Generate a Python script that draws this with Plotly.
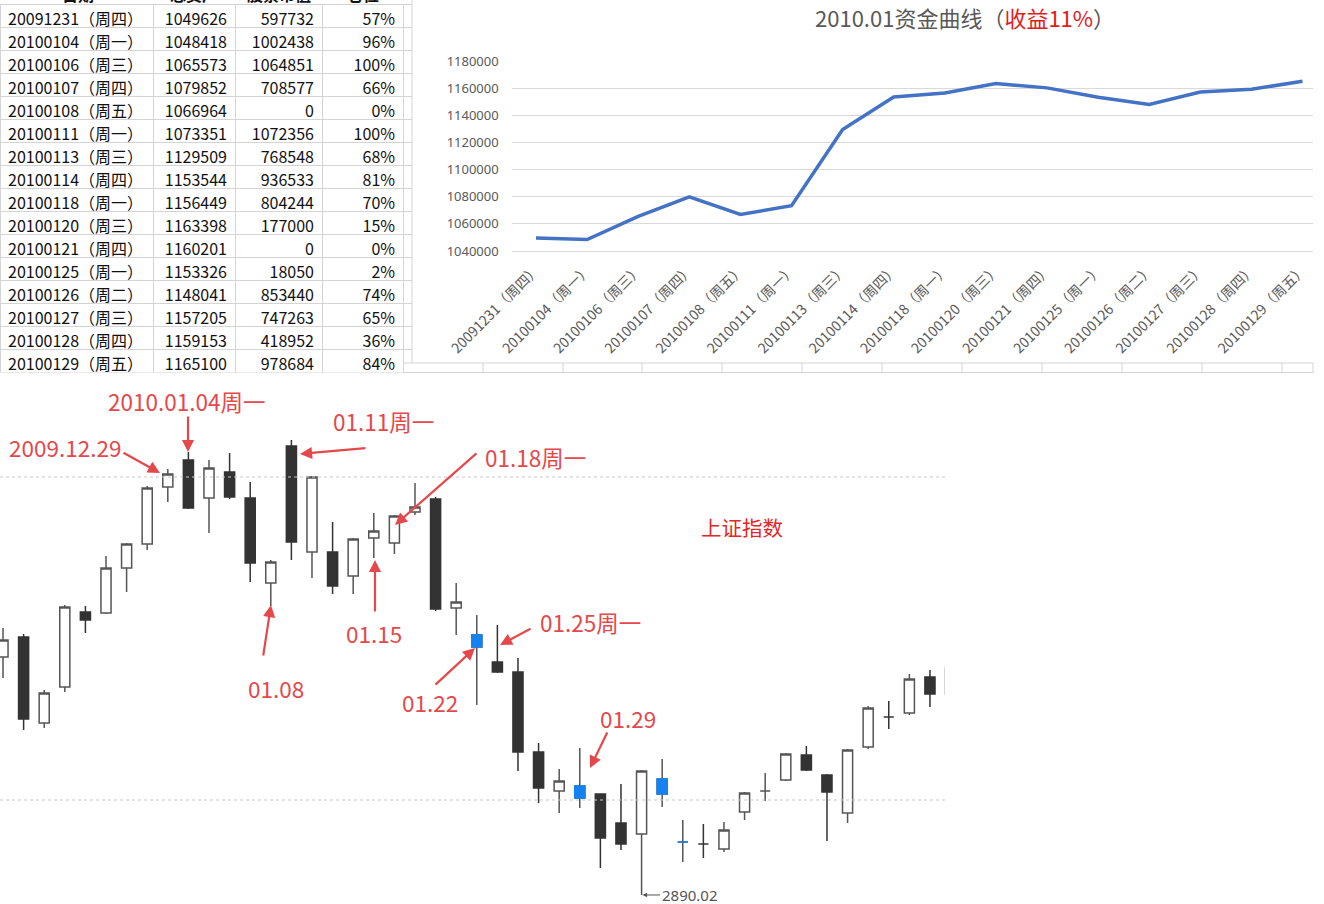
import plotly.graph_objects as go

W, H = 1324, 904

# ---------------- table / equity curve data ----------------
dates = ['20091231', '20100104', '20100106', '20100107', '20100108', '20100111',
         '20100113', '20100114', '20100118', '20100120', '20100121', '20100125',
         '20100126', '20100127', '20100128', '20100129']
weekdays = ['周四', '周一', '周三', '周四', '周五', '周一', '周三', '周四',
            '周一', '周三', '周四', '周一', '周二', '周三', '周四', '周五']
total_assets = [1049626, 1048418, 1065573, 1079852, 1066964, 1073351, 1129509, 1153544,
                1156449, 1163398, 1160201, 1153326, 1148041, 1157205, 1159153, 1165100]
stock_value = [597732, 1002438, 1064851, 708577, 0, 1072356, 768548, 936533,
               804244, 177000, 0, 18050, 853440, 747263, 418952, 978684]
position_pct = [57, 96, 100, 66, 0, 100, 68, 81, 70, 15, 0, 2, 74, 65, 36, 84]
table_header = ['日期', '总资产', '股票市值', '仓位']

labels = [f"{d}（{w}）" for d, w in zip(dates, weekdays)]

# ---------------- SSE index candles ----------------
candle_dates = ['2009-12-21', '2009-12-22', '2009-12-23', '2009-12-24', '2009-12-25',
                '2009-12-28', '2009-12-29', '2009-12-30', '2009-12-31', '2010-01-04',
                '2010-01-05', '2010-01-06', '2010-01-07', '2010-01-08', '2010-01-11',
                '2010-01-12', '2010-01-13', '2010-01-14', '2010-01-15', '2010-01-18',
                '2010-01-19', '2010-01-20', '2010-01-21', '2010-01-22', '2010-01-25',
                '2010-01-26', '2010-01-27', '2010-01-28', '2010-01-29', '2010-02-01',
                '2010-02-02', '2010-02-03', '2010-02-04', '2010-02-05', '2010-02-08',
                '2010-02-09', '2010-02-10', '2010-02-11', '2010-02-12', '2010-02-22',
                '2010-02-23', '2010-02-24', '2010-02-25', '2010-02-26', '2010-03-01',
                '2010-03-02', '2010-03-03']
opens = [3107.56, 3125.84, 3047.23, 3080.14, 3148.69, 3147.78, 3188.91, 3210.85, 3262.95, 3287.63,
         3252.90, 3276.66, 3252.90, 3175.20, 3300.43, 3203.54, 3203.54, 3181.60, 3216.33, 3211.76,
         3240.10, 3251.98, 3152.35, 3127.67, 3102.99, 3093.85, 3020.72, 2985.07, 2989.64, 2982.33,
         2955.82, 2945.77, 2982.33, 2938.45, 2936.63, 2932.06, 2965.88, 2985.07, 2995.13, 3017.98,
         2999.70, 2964.96, 3025.29, 3052.71, 3056.37, 3089.28, 3073.74]
highs = [3134.07, 3128.58, 3077.39, 3155.09, 3154.18, 3199.88, 3211.76, 3263.87, 3279.41, 3294.95,
         3287.63, 3294.03, 3267.52, 3196.23, 3305.91, 3273.01, 3230.96, 3216.33, 3239.19, 3237.36,
         3266.61, 3253.81, 3175.20, 3145.95, 3136.81, 3106.65, 3028.95, 3005.18, 3024.38, 2982.33,
         2991.47, 3004.27, 3014.32, 2958.56, 2954.91, 2956.74, 2984.16, 3001.53, 3019.81, 3026.21,
         3000.61, 3023.46, 3062.77, 3067.34, 3092.02, 3095.68, 3099.33]
lows = [3088.36, 3040.83, 3042.66, 3075.57, 3129.50, 3146.86, 3166.97, 3205.37, 3249.24, 3242.84,
        3220.91, 3251.98, 3176.12, 3154.18, 3196.23, 3179.77, 3165.15, 3165.15, 3198.05, 3201.71,
        3237.36, 3149.61, 3127.67, 3063.68, 3092.93, 3003.35, 2974.10, 2964.96, 2969.53, 2914.69,
        2931.14, 2890.02, 2970.45, 2920.17, 2923.83, 2929.31, 2958.56, 2975.93, 2994.21, 3003.35,
        2939.37, 2955.82, 3023.46, 3041.75, 3054.54, 3061.86, 3072.82]
closes = [3123.10, 3050.89, 3074.65, 3153.26, 3141.38, 3188.91, 3210.85, 3262.04, 3274.84, 3243.76,
          3280.32, 3253.81, 3193.48, 3194.40, 3212.68, 3272.09, 3172.46, 3215.42, 3222.73, 3236.44,
          3244.67, 3151.44, 3157.83, 3116.70, 3093.85, 3020.72, 2987.81, 2994.21, 2978.67, 2942.11,
          2936.63, 3003.35, 2996.04, 2938.45, 2936.63, 2949.42, 2983.24, 2985.07, 3018.89, 3004.27,
          2984.16, 3022.55, 3060.94, 3052.71, 3087.45, 3073.74, 3097.50]
highlight_dates = ['2010-01-22', '2010-01-29', '2010-02-04', '2010-02-05']
guide_levels = [3272.09, 2976.85]
low_label = 2890.02

# ---------------- helpers for layout positions (pixels -> paper) ----------------
def px(x):
    return x / W


def py(y):
    return 1 - y / H


fig = go.Figure()

# ---- table (first record drawn as the table's header row so no extra band appears) ----
pct_text = [f"{p}%" for p in position_pct]
columns = [labels, total_assets, stock_value, pct_text]
cell_font = dict(family='Noto Sans CJK SC', size=16, color='#111111')
cell_align = ['left', 'right', 'right', 'right']
cell_line = dict(color='#D4D4D4', width=1)
fig.add_trace(go.Table(
    domain=dict(x=[px(0), px(403)], y=[py(373), py(4.5)]),
    columnwidth=[153, 82, 87, 81],
    header=dict(values=[str(col[0]) for col in columns], height=23, align=cell_align,
                font=cell_font, line=cell_line, fill=dict(color='white')),
    cells=dict(values=[col[1:] for col in columns], height=23, align=cell_align,
               font=cell_font, line=cell_line, fill=dict(color='white')),
))

# ---- equity curve ----
fig.add_trace(go.Scatter(
    x=labels, y=total_assets, mode='lines',
    line=dict(color='#4472C4', width=3.5),
    xaxis='x', yaxis='y', showlegend=False, hoverinfo='x+y',
))

# ---- candles ----
normal = [i for i, d in enumerate(candle_dates) if d not in highlight_dates]
blue = [i for i, d in enumerate(candle_dates) if d in highlight_dates]


def pick(arr, idx):
    return [arr[i] for i in idx]


fig.add_trace(go.Candlestick(
    x=pick(candle_dates, normal), open=pick(opens, normal), high=pick(highs, normal),
    low=pick(lows, normal), close=pick(closes, normal),
    increasing=dict(line=dict(color='#555555', width=1.5), fillcolor='white'),
    decreasing=dict(line=dict(color='#333333', width=1.5), fillcolor='#333333'),
    xaxis='x2', yaxis='y2', showlegend=False,
))
# highlighted candles: grey wicks underneath ...
fig.add_trace(go.Candlestick(
    x=pick(candle_dates, blue), open=pick(opens, blue), high=pick(highs, blue),
    low=pick(lows, blue), close=pick(closes, blue),
    increasing=dict(line=dict(color='#555555', width=1.5), fillcolor='#1482F0'),
    decreasing=dict(line=dict(color='#555555', width=1.5), fillcolor='#1482F0'),
    xaxis='x2', yaxis='y2', showlegend=False,
))
# ... and blue bodies on top (body only: high/low clamped to the body)
b_open = pick(opens, blue)
b_close = pick(closes, blue)
fig.add_trace(go.Candlestick(
    x=pick(candle_dates, blue), open=b_open, close=b_close,
    high=[max(o, c) for o, c in zip(b_open, b_close)],
    low=[min(o, c) for o, c in zip(b_open, b_close)],
    increasing=dict(line=dict(color='#1482F0', width=1.5), fillcolor='#1482F0'),
    decreasing=dict(line=dict(color='#1482F0', width=1.5), fillcolor='#1482F0'),
    xaxis='x2', yaxis='y2', showlegend=False, hoverinfo='skip',
))

shapes = []
for lv in guide_levels:
    shapes.append(dict(type='line', xref='x2 domain', yref='y2', x0=0, x1=1, y0=lv, y1=lv,
                       line=dict(color='#C8C8C8', width=1, dash='dot')))

# excel sheet grid remnants
grid_col = '#D4D4D4'
shapes.append(dict(type='line', xref='paper', yref='paper', x0=px(403), x1=px(1313),
                   y0=py(363), y1=py(363), line=dict(color=grid_col, width=1)))
shapes.append(dict(type='line', xref='paper', yref='paper', x0=px(403), x1=px(1313),
                   y0=py(372.5), y1=py(372.5), line=dict(color=grid_col, width=1)))
for gx in [483, 563, 642, 722, 802, 882, 962, 1042, 1122, 1202, 1282, 1313]:
    shapes.append(dict(type='line', xref='paper', yref='paper', x0=px(gx), x1=px(gx),
                       y0=py(363), y1=py(373), line=dict(color=grid_col, width=1)))
shapes.append(dict(type='line', xref='paper', yref='paper', x0=px(412), x1=px(412),
                   y0=py(0), y1=py(363), line=dict(color=grid_col, width=1)))
for k in range(17):
    yy = 4.5 + 23 * k
    shapes.append(dict(type='line', xref='paper', yref='paper', x0=px(403), x1=px(412),
                       y0=py(yy), y1=py(yy), line=dict(color=grid_col, width=1)))

annotations = []
# cut-off column titles of the table
for txt, cx in zip(table_header, [78, 194, 278.5, 362.5]):
    annotations.append(dict(text=f"<b>{txt}</b>", xref='paper', yref='paper', x=px(cx), y=py(-6),
                            showarrow=False, xanchor='center', yanchor='middle',
                            font=dict(family='Noto Sans CJK SC', size=16, color='#111111')))

# chart title
annotations.append(dict(
    text="2010.01资金曲线（<span style='color:#E51A1A'>收益11%</span>）",
    xref='paper', yref='paper', x=px(965), y=py(17), showarrow=False,
    xanchor='center', yanchor='middle',
    font=dict(family='Noto Sans CJK SC', size=22, color='#595959')))

red = '#E5484A'
text_notes = [
    ("2009.12.29", 65, 447), ("2010.01.04周一", 186, 401), ("01.11周一", 383, 421),
    ("01.18周一", 535, 457), ("01.08", 276, 688), ("01.15", 374, 633),
    ("01.22", 430, 702), ("01.25周一", 590, 622), ("01.29", 628, 718),
]
for txt, cx, cy in text_notes:
    annotations.append(dict(text=txt, xref='paper', yref='paper', x=px(cx), y=py(cy),
                            showarrow=False, xanchor='center', yanchor='middle',
                            font=dict(family='Noto Sans CJK SC', size=22.5, color=red)))

arrows = [
    ((122, 452), (160, 473)), ((188, 415), (188, 452)), ((367, 448), (300, 454)),
    ((478, 452), (395, 525)), ((263, 657), (271, 605)), ((375, 613), (375, 560)),
    ((434, 686), (475, 648)), ((532, 628), (500, 645)), ((608, 731), (590, 768)),
]
for (tx, ty), (hx, hy) in arrows:
    annotations.append(dict(text='', xref='paper', yref='paper', x=px(hx), y=py(hy),
                            ax=tx - hx, ay=ty - hy, showarrow=True, arrowhead=2,
                            arrowsize=1.1, arrowwidth=2.2, arrowcolor=red))

annotations.append(dict(text='上证指数', xref='paper', yref='paper', x=px(742), y=py(527),
                        showarrow=False, xanchor='center', yanchor='middle',
                        font=dict(family='Noto Sans CJK SC', size=20.5, color='#E02828')))

annotations.append(dict(text=f"{low_label:.2f}", xref='x2', yref='y2', x='2010-02-03', y=low_label,
                        ax=48, ay=0, showarrow=True, arrowhead=2, arrowsize=0.9, arrowwidth=1,
                        arrowcolor='#555555', standoff=1,
                        font=dict(family='Noto Sans', size=15, color='#555555')))

fig.update_layout(
    width=W, height=H, margin=dict(l=0, r=0, t=0, b=0, pad=0, autoexpand=False),
    paper_bgcolor='white', plot_bgcolor='rgba(0,0,0,0)', showlegend=False,
    xaxis=dict(domain=[px(511.7), px(1313)], anchor='y', type='category', automargin=False,
               range=[-0.476, 15.205], tickangle=-45, showgrid=False, showline=True,
               linecolor='#D9D9D9', ticks='', ticklabelstandoff=4,
               tickfont=dict(family='Noto Sans CJK SC', size=14, color='#595959')),
    yaxis=dict(domain=[py(251), py(61)], anchor='x', range=[1040000, 1180000], dtick=20000,
               tickformat='d', showgrid=True, gridcolor='#D9D9D9', zeroline=False,
               ticks='', ticklabelstandoff=12, automargin=False,
               tickfont=dict(family='Noto Sans', size=13, color='#595959')),
    xaxis2=dict(domain=[0, px(945)], anchor='y2', type='category', categoryorder='array',
                categoryarray=candle_dates, range=[-0.146, 45.73], visible=False,
                automargin=False, rangeslider=dict(visible=False)),
    yaxis2=dict(domain=[0, py(380)], anchor='x2', range=[2881.78, 3360.76], visible=False,
                automargin=False),
    shapes=shapes, annotations=annotations,
)

fig.write_html("out.html")
